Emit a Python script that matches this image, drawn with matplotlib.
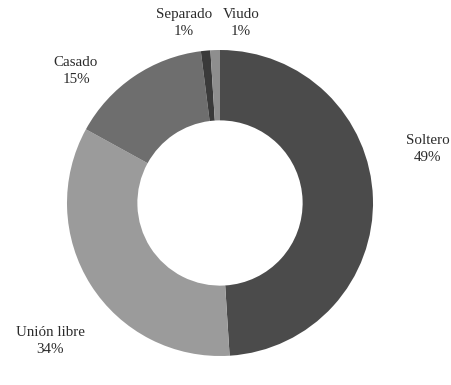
import matplotlib.pyplot as plt

# Estado civil
categories = ["Soltero", "Unión libre", "Casado", "Separado", "Viudo"]
shares = [49, 34, 15, 1, 1]
colors = ["#4b4b4b", "#9b9b9b", "#6e6e6e", "#3a3a3a", "#8e8e8e"]

# label anchor points (pixels from top-left of the figure)
label_px = [(428, 149), (50, 341), (76, 71), (184, 23), (241, 23)]

W, H = 452, 385
CX, CY, R = 220, 203, 153

fig = plt.figure(figsize=(W / 100, H / 100), dpi=100)
fig.patch.set_facecolor("white")
ax = fig.add_axes([0, 0, 1, 1])

ax.pie(
    shares,
    colors=colors,
    startangle=90,
    counterclock=False,
    radius=1.0,
    wedgeprops=dict(width=0.46, edgecolor="none", linewidth=0),
)

ax.set_xlim(-CX / R, (W - CX) / R)
ax.set_ylim(-(H - CY) / R, CY / R)
ax.set_aspect("equal", adjustable="box")
ax.axis("off")

for name, val, (px, py) in zip(categories, shares, label_px):
    x = (px - CX) / R
    y = (CY - py) / R
    ax.text(x, y, f"{name}\n{val}%", ha="center", va="center",
            fontsize=10.8, family="Liberation Serif", color="#2b2b2b",
            linespacing=1.4)

fig.savefig("out.png", dpi=100, facecolor="white")
